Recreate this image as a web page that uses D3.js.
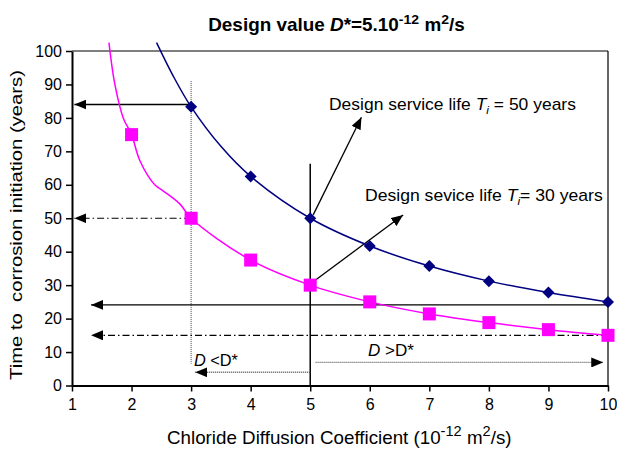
<!DOCTYPE html>
<html><head><meta charset="utf-8">
<script src="https://cdn.jsdelivr.net/npm/d3@7"></script>
<style>body{margin:0;background:#fff}svg{display:block}text{font-family:"Liberation Sans",Arial,sans-serif}</style>
</head><body><svg id="c" width="617" height="449"></svg>
<script>
// Data
const xTicks = [1,2,3,4,5,6,7,8,9,10];
const yTicks = [0,10,20,30,40,50,60,70,80,90,100];
// Ti = 50 years series (markers)
const navyX = [3,4,5,6,7,8,9,10];
const navyY = [83.3,62.5,50,41.7,35.7,31.2,27.8,25];
// Ti = 30 years series (markers)
const magX = [2,3,4,5,6,7,8,9,10];
const magY = [75,50,37.5,30,25,21.4,18.8,16.7,15];
// smoothed curve points
const navyCurveX = [2.42,2.7,3,3.5,4,5,6,7,8,9,10];
const navyCurveY = [102.5,92.5,83.3,71.5,62.5,50,41.7,35.7,31.2,27.8,25];
const magCurveX = [1.62,1.72,1.86,2,2.14,2.39,2.53,2.81,3,4,5,6,7,8,9,10];
const magCurveY = [102.5,90,80,75,67.2,60,58.2,54.3,50,37.5,30,25,21.4,18.8,16.7,15];

const svg = d3.select("#c");
const x = d3.scaleLinear().domain([1,10]).range([72,608]);
const y = d3.scaleLinear().domain([0,100]).range([385.5,51]);

// frame top & right
svg.append("line").attr("x1",x(1)).attr("x2",x(10)).attr("y1",y(100)).attr("y2",y(100)).attr("stroke","#000").attr("stroke-width",1.2);
svg.append("line").attr("x1",x(10)).attr("x2",x(10)).attr("y1",y(100)).attr("y2",y(0)).attr("stroke","#000").attr("stroke-width",1.2);

// axes
const xa = svg.append("g").attr("transform",`translate(0,${y(0)})`)
  .call(d3.axisBottom(x).tickValues(xTicks).tickFormat(d3.format("d")).tickSize(6).tickSizeOuter(0));
const ya = svg.append("g").attr("transform",`translate(${x(1)},0)`)
  .call(d3.axisLeft(y).tickValues(yTicks).tickSize(6).tickSizeOuter(0));
[xa,ya].forEach(a=>{
  a.select(".domain").attr("stroke","#000").attr("stroke-width",2);
  a.selectAll(".tick line").attr("stroke","#000").attr("stroke-width",1.5);
  a.selectAll(".tick text").attr("font-size",16).attr("fill","#000").attr("font-family","Liberation Sans, Arial, sans-serif");
});
xa.selectAll(".tick text").attr("dy","0.95em");
ya.selectAll(".tick text").attr("dx","-1px");

// defs arrowhead
const defs = svg.append("defs");
defs.append("marker").attr("id","ah").attr("viewBox","0 0 12 10").attr("refX",12).attr("refY",5)
  .attr("markerWidth",12).attr("markerHeight",10).attr("markerUnits","userSpaceOnUse").attr("orient","auto")
  .append("path").attr("d","M0,0L12,5L0,10Z").attr("fill","#000");

// reference lines (data coords)
const refLines = [
  {x1:3,y1:91,x2:3,y2:6.5,dash:"1,1",color:"#444",w:1,arrow:false},
  {x1:5,y1:66.3,x2:5,y2:0,dash:null,color:"#000",w:1.5,arrow:false},
  {x1:3,y1:84,x2:1.04,y2:84,dash:null,color:"#000",w:1.3,arrow:true},
  {x1:3,y1:50,x2:1.04,y2:50,dash:"7,3,1.5,3",color:"#000",w:1.1,arrow:true},
  {x1:10,y1:24.1,x2:1.32,y2:24.1,dash:null,color:"#000",w:1.3,arrow:true},
  {x1:10,y1:15,x2:1.32,y2:15,dash:"7,3,1.5,3",color:"#000",w:1.1,arrow:true},
  {x1:5.05,y1:51,x2:5.86,y2:80.2,dash:null,color:"#000",w:1.3,arrow:true},
  {x1:5.05,y1:31,x2:6.56,y2:51,dash:null,color:"#000",w:1.3,arrow:true},
  {x1:5,y1:3.95,x2:3.07,y2:3.95,dash:"1,1",color:"#555",w:1.5,arrow:true},
  {x1:5.09,y1:6.9,x2:9.92,y2:6.9,dash:"1,1",color:"#555",w:1.2,arrow:true}
];
refLines.forEach(l=>{
  const ln = svg.append("line").attr("x1",x(l.x1)).attr("y1",y(l.y1)).attr("x2",x(l.x2)).attr("y2",y(l.y2))
    .attr("stroke",l.color).attr("stroke-width",l.w);
  if(l.dash) ln.attr("stroke-dasharray",l.dash);
  if(l.arrow) ln.attr("marker-end","url(#ah)");
});

// curves
const line = d3.line().x(d=>x(d[0])).y(d=>y(d[1])).curve(d3.curveCatmullRom.alpha(0.5));
svg.append("path").datum(navyCurveX.map((v,i)=>[v,navyCurveY[i]])).attr("d",line)
  .attr("fill","none").attr("stroke","#000080").attr("stroke-width",1.5);
svg.append("path").datum(magCurveX.map((v,i)=>[v,magCurveY[i]])).attr("d",line)
  .attr("fill","none").attr("stroke","#FF00FF").attr("stroke-width",1.5);

// markers
svg.selectAll(".sq").data(magX.map((v,i)=>[v,magY[i]])).enter().append("rect")
  .attr("x",d=>x(d[0])-6.5).attr("y",d=>y(d[1])-6.5).attr("width",13).attr("height",13).attr("fill","#FF00FF");
svg.selectAll(".dm").data(navyX.map((v,i)=>[v,navyY[i]])).enter().append("path")
  .attr("d","M0,-6L6,0L0,6L-6,0Z").attr("transform",d=>`translate(${x(d[0])},${y(d[1])})`).attr("fill","#000080");

// texts
function t(xp,yp,size){return svg.append("text").attr("x",xp).attr("y",yp).attr("font-size",size).attr("fill","#000");}
function fit(sel, target, anchorX){
  const w = sel.node().getBBox().width;
  const s = target / w;
  sel.attr("transform",`translate(${anchorX},0) scale(${s},1) translate(${-anchorX},0)`);
}
const title = t(336.5,31,17.5).attr("text-anchor","middle").attr("font-weight","bold");
title.append("tspan").text("Design value ");
title.append("tspan").attr("font-style","italic").text("D");
title.append("tspan").text("*=5.10");
title.append("tspan").attr("dy",-7).attr("font-size",13).text("-12");
title.append("tspan").attr("dy",7).text(" m");
title.append("tspan").attr("dy",-7).attr("font-size",13).text("2");
title.append("tspan").attr("dy",7).text("/s");
fit(title,257,336.5);

const xl = t(167,444,18).attr("text-anchor","start");
xl.append("tspan").text("Chloride Diffusion Coefficient (10");
xl.append("tspan").attr("dy",-8).attr("font-size",14).text("-12");
xl.append("tspan").attr("dy",8).text(" m");
xl.append("tspan").attr("dy",-8).attr("font-size",14).text("2");
xl.append("tspan").attr("dy",8).text("/s)");
fit(xl,345,167);

const yl = svg.append("text").attr("transform","translate(22,225) rotate(-90)").attr("text-anchor","middle")
  .attr("font-size",17).attr("fill","#000").attr("xml:space","preserve").text("Time to  corrosion initiation (years)");
{
  const w = yl.node().getBBox().width;
  yl.attr("transform",`translate(22,225) rotate(-90) scale(${310/w},1)`);
}

const a1 = t(329,110,16);
a1.append("tspan").text("Design service life ");
a1.append("tspan").attr("font-style","italic").text("T");
a1.append("tspan").attr("font-style","italic").attr("font-size",11).attr("dy",4).text("i");
a1.append("tspan").attr("dy",-4).text(" = 50 years");
fit(a1,247,329);
const a2 = t(365,201,16);
a2.append("tspan").text("Design sevice life ");
a2.append("tspan").attr("font-style","italic").text("T");
a2.append("tspan").attr("font-style","italic").attr("font-size",11).attr("dy",4).text("i");
a2.append("tspan").attr("dy",-4).text("= 30 years");
fit(a2,238,365);

const dl = t(194,366,16);
dl.append("tspan").attr("font-style","italic").text("D");
dl.append("tspan").text(" <D*");
fit(dl,44,194);
const dg = t(368,356,16);
dg.append("tspan").attr("font-style","italic").text("D");
dg.append("tspan").text(" >D*");
fit(dg,46,368);
</script></body></html>
